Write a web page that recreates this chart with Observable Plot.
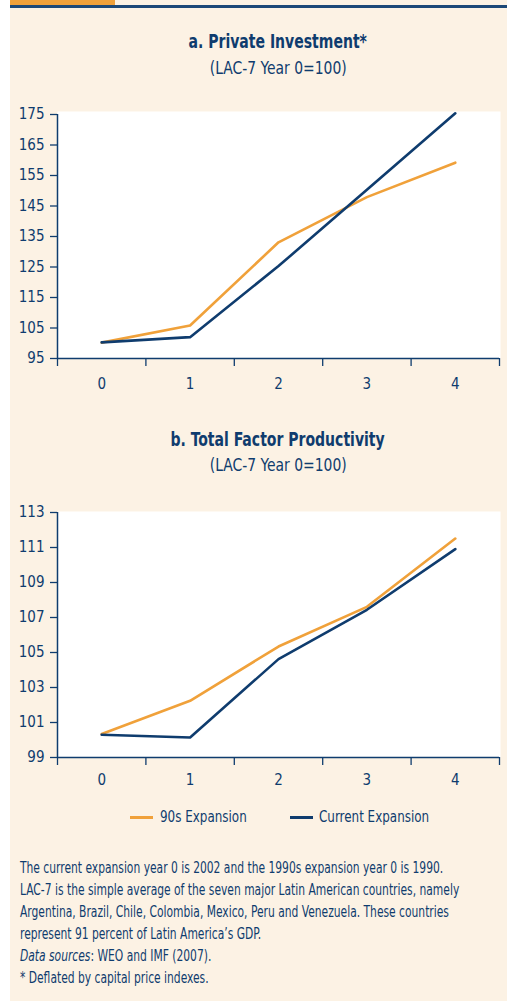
<!DOCTYPE html>
<html><head><meta charset="utf-8">
<script src="https://cdn.jsdelivr.net/npm/d3@7"></script>
<script src="https://cdn.jsdelivr.net/npm/@observablehq/plot@0.6"></script>
<style>
body{margin:0;background:#fff;width:507px;height:1001px;overflow:hidden;position:relative;font-family:"Liberation Sans Narrow","DejaVu Sans Condensed","Roboto",sans-serif;font-stretch:condensed;color:#0f3c6e;}
#panel{position:absolute;left:10px;top:0;width:497px;height:1001px;background:#fcf2e4;}
#obar{position:absolute;left:10px;top:0;width:105px;height:5px;background:#f0a13a;}
#bline{position:absolute;left:10px;top:5px;width:497px;height:3px;background:#1c4877;}
.t{position:absolute;left:57px;width:442px;text-align:center;}
.t span{display:inline-block;}
.title{font-weight:bold;font-size:19px;}
.title span{transform:scaleX(0.82);}
.sub{font-size:17px;}
.sub span{transform:scaleX(0.91);}
.chart{position:absolute;left:10px;}
#legend{position:absolute;top:807px;left:0;width:507px;font-size:16px;}
#notes{position:absolute;left:20px;top:857px;font-size:16px;line-height:22px;white-space:nowrap;transform:scaleX(0.745);transform-origin:0 0;}
</style></head><body>
<div id="panel"></div><div id="obar"></div><div id="bline"></div>
<div class="t title" style="top:30px"><span>a. Private Investment*</span></div>
<div class="t sub" style="top:58px"><span>(LAC-7 Year 0=100)</span></div>
<div class="chart" id="ca" style="top:100px"></div>
<div class="t title" style="top:428px"><span>b. Total Factor Productivity</span></div>
<div class="t sub" style="top:455px"><span>(LAC-7 Year 0=100)</span></div>
<div class="chart" id="cb" style="top:497px"></div>
<div id="legend"></div>
<div id="notes">The current expansion year 0 is 2002 and the 1990s expansion year 0 is 1990.<br>LAC-7 is the simple average of the seven major Latin American countries, namely<br>Argentina, Brazil, Chile, Colombia, Mexico, Peru and Venezuela. These countries<br>represent 91 percent of Latin America’s GDP.<br><i>Data sources</i>: WEO and IMF (2007).<br>* Deflated by capital price indexes.</div>
<script>
const years = [0, 1, 2, 3, 4];
const seriesNames = ["90s Expansion", "Current Expansion"];
const invest90s = [100.2, 105.8, 133.1, 147.9, 159.2];
const investCurrent = [100.3, 102.0, 125.3, 150.3, 175.4];
const tfp90s = [100.34, 102.24, 105.34, 107.61, 111.51];
const tfpCurrent = [100.3, 100.14, 104.62, 107.44, 110.91];
const investTicks = [95, 105, 115, 125, 135, 145, 155, 165, 175];
const tfpTicks = [99, 101, 103, 105, 107, 109, 111, 113];
const colors = ["#f0a13a", "#0f3c6e"];

const ink = "#0f3c6e";
const font = '"Liberation Sans Narrow","DejaVu Sans Condensed",Roboto,sans-serif';

function rows(a, b) {
  const out = [];
  years.forEach((yr, i) => {
    out.push({year: yr, value: a[i], series: seriesNames[0]});
    out.push({year: yr, value: b[i], series: seriesNames[1]});
  });
  return out;
}

function chart(data, ticks, mt, mb, insetTop, labelPad) {
  const lo = ticks[0], hi = ticks[ticks.length - 1];
  const bounds = years.map(y => y - 0.5).concat([years[years.length - 1] + 0.5]);
  return Plot.plot({
    width: 497, height: 300,
    marginLeft: 47, marginRight: 8, marginTop: mt, marginBottom: mb,
    style: {background: "transparent", fontFamily: font, fontSize: "15px", color: ink},
    x: {domain: [-0.5, 4.5]},
    y: {domain: [lo, hi]},
    color: {domain: seriesNames, range: colors},
    marks: [
      Plot.frame({fill: "white", insetTop: -insetTop, insetRight: -1}),
      Plot.axisY({ticks: ticks, tickSize: 7, tickPadding: 6, stroke: ink, strokeWidth: 1.3, label: null, fill: ink, tickFormat: d => String(d)}),
      Plot.axisX({ticks: bounds, tickSize: 8, tickFormat: () => "", stroke: ink, strokeWidth: 1.3, label: null}),
      Plot.axisX({ticks: years, tickSize: 0, tickPadding: labelPad, label: null, fill: ink, tickFormat: d => String(d)}),
      Plot.ruleX([-0.5], {stroke: ink, strokeWidth: 1.5}),
      Plot.ruleY([lo], {stroke: ink, strokeWidth: 1.5}),
      Plot.line(data, {x: "year", y: "value", stroke: "series", z: "series", strokeWidth: 2.6})
    ]
  });
}

document.getElementById("ca").append(chart(rows(invest90s, investCurrent), investTicks, 14, 42, 3, 20));
document.getElementById("cb").append(chart(rows(tfp90s, tfpCurrent), tfpTicks, 15, 40, 1, 17));

// legend
const leg = document.getElementById("legend");
const pos = [[130, 160], [290, 319]];
seriesNames.forEach((s, i) => {
  const sw = document.createElement("div");
  sw.style.cssText = `position:absolute;left:${pos[i][0]}px;top:9px;width:23px;height:3px;background:${colors[i]}`;
  const tx = document.createElement("div");
  tx.style.cssText = `position:absolute;left:${pos[i][1]}px;top:0;transform:scaleX(0.83);transform-origin:0 0;white-space:nowrap;`;
  tx.textContent = s;
  leg.append(sw, tx);
});
</script>
</body></html>
